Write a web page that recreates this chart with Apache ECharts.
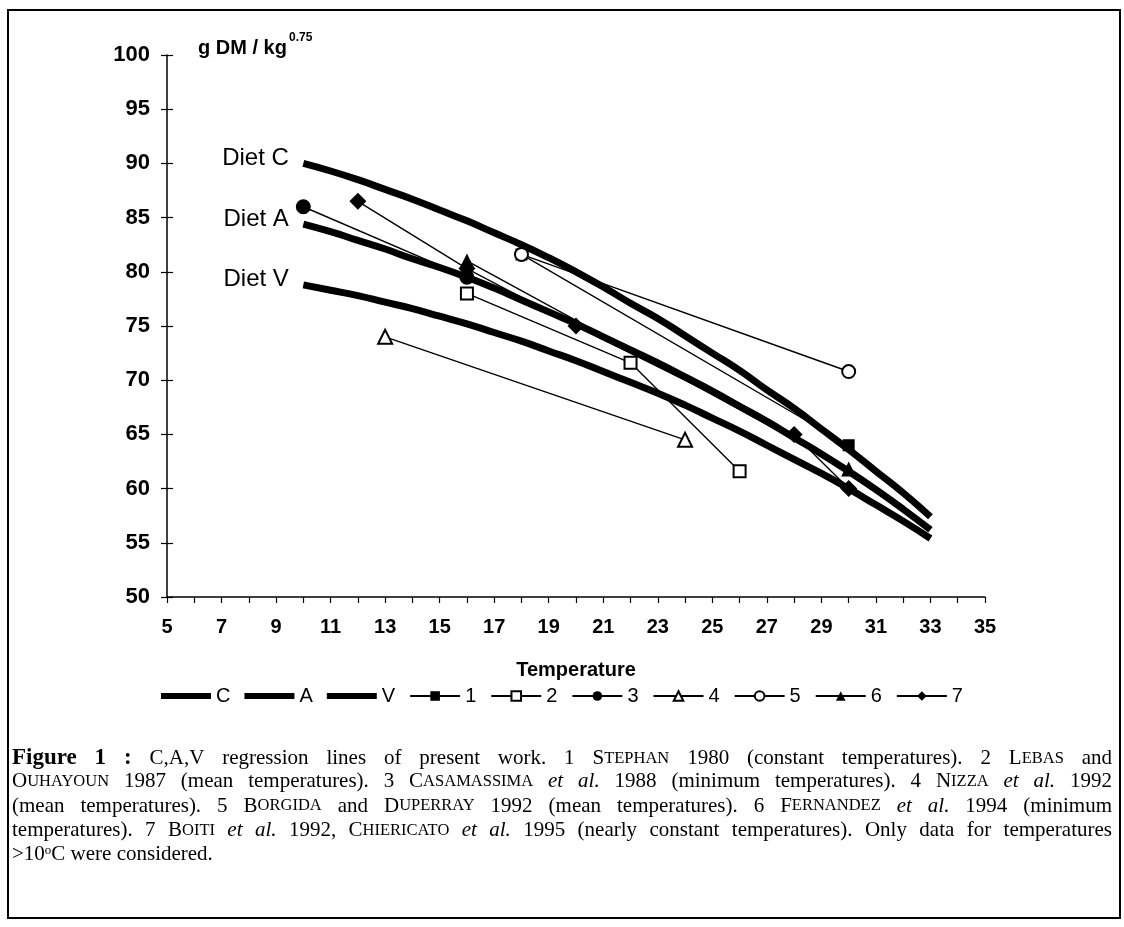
<!DOCTYPE html>
<html><head><meta charset="utf-8">
<script src="https://cdn.jsdelivr.net/npm/echarts@6/dist/echarts.min.js"></script>
<style>html,body{margin:0;padding:0;background:#fff}#c{width:1124px;height:927px}</style>
</head><body><div id="c"></div>
<script>
// ---- data ----
const tempGrid = [10,11,12,13,14,15,16,17,18,19,20,21,22,23,24,25,26,27,28,29,30,31,32,33];
const dietC = [90.0,89.3,88.5,87.6,86.7,85.7,84.7,83.6,82.5,81.3,80.0,78.6,77.1,75.7,74.1,72.5,70.9,69.1,67.4,65.5,63.6,61.6,59.6,57.4];
const dietA = [84.4,83.7,82.9,82.1,81.2,80.4,79.5,78.5,77.4,76.3,75.2,74.0,72.8,71.6,70.3,69.0,67.6,66.2,64.7,63.2,61.6,59.9,58.1,56.2];
const dietV = [78.8,78.3,77.8,77.2,76.6,75.9,75.2,74.4,73.6,72.7,71.8,70.8,69.8,68.8,67.7,66.5,65.3,64.0,62.7,61.4,60.0,58.5,57.0,55.4];
const study1 = [[18,81.6],[30,64]];
const study2 = [[16,78],[22,71.6],[26,61.6]];
const study3 = [[10,86],[16,79.5]];
const study4 = [[13,74],[24,64.5]];
const study5 = [[18,81.6],[30,70.8]];
const study6 = [[16,81],[30,61.8]];
const study7 = [[12,86.5],[16,80.3],[20,75],[28,65],[30,60]];
const xRange = [5,35];
const yRange = [50,100];
const yLabelName = 'g DM / kg';
const yLabelSup = '0.75';
const xLabelName = 'Temperature';

const chart = echarts.init(document.getElementById('c'));
const SANS = 'Liberation Sans';
const SERIF = 'Liberation Serif';

function thick(name, ys, label){
  const data = tempGrid.map((t,i)=>[t, ys[i]]);
  return {name, type:'line', data, smooth:true, showSymbol:false, symbol:'none',
    lineStyle:{color:'#000', width:7}, itemStyle:{color:'#000'}, z:2, animation:false,
    markPoint:{symbol:'circle', symbolSize:1, itemStyle:{color:'rgba(0,0,0,0)'},
      data:[{coord:[tempGrid[0], ys[0]]}],
      label:{show:true, formatter:label, position:'left', distance:14,
        color:'#000', fontSize:24, fontFamily:SANS, offset:[0,-5]}}};
}
function thin(name, data, symbol, empty, size){
  return {name, type:'line', data, symbol, symbolSize:size,
    showAllSymbol:true,
    lineStyle:{color:'#000', width:1.4},
    itemStyle:{color:'#000', borderColor:'#000', borderWidth: empty?2:0},
    z:3, animation:false};
}

// ---- caption with justified lines ----
const capLines = [
 [['b','Figure 1 :'],['n',' C,A,V regression lines of present work. 1 S'],['s','TEPHAN'],['n',' 1980 (constant temperatures). 2 L'],['s','EBAS'],['n',' and']],
 [['n','O'],['s','UHAYOUN'],['n',' 1987 (mean temperatures). 3 C'],['s','ASAMASSIMA'],['n',' '],['i','et al.'],['n',' 1988 (minimum temperatures). 4 N'],['s','IZZA'],['n',' '],['i','et al.'],['n',' 1992']],
 [['n','(mean temperatures). 5 B'],['s','ORGIDA'],['n',' and D'],['s','UPERRAY'],['n',' 1992 (mean temperatures). 6 F'],['s','ERNANDEZ'],['n',' '],['i','et al.'],['n',' 1994 (minimum']],
 [['n','temperatures). 7 B'],['s','OITI'],['n',' '],['i','et al.'],['n',' 1992, C'],['s','HIERICATO'],['n',' '],['i','et al.'],['n',' 1995 (nearly constant temperatures). Only data for temperatures']],
 [['n','>10'],['sup','o'],['n','C were considered.']]
];
const capStyles = {
  n:{fontSize:21, fontFamily:SERIF, fontWeight:'normal', fontStyle:'normal'},
  b:{fontSize:23, fontFamily:SERIF, fontWeight:'bold', fontStyle:'normal'},
  s:{fontSize:16.5, fontFamily:SERIF, fontWeight:'normal', fontStyle:'normal'},
  i:{fontSize:21, fontFamily:SERIF, fontWeight:'normal', fontStyle:'italic'},
  sup:{fontSize:13, fontFamily:SERIF, fontWeight:'normal', fontStyle:'normal', verticalAlign:'top'}
};
const ctx = document.createElement('canvas').getContext('2d');
function fontOf(st){ return `${st.fontStyle} ${st.fontWeight} ${st.fontSize}px "${st.fontFamily}"`; }
const TARGET = 1100;
const graphics = [];
capLines.forEach((line, li)=>{
  let parts = []; let nSp = 0; let w = 0;
  line.forEach(([st, txt])=>{
    const pieces = txt.split(' ');
    pieces.forEach((p, pi)=>{
      if (pi>0){ parts.push({sp:true}); nSp++; }
      if (p.length){ ctx.font = fontOf(capStyles[st]); w += ctx.measureText(p).width; parts.push({st, p}); }
    });
  });
  ctx.font = fontOf(capStyles.n);
  const natSp = ctx.measureText(' ').width;
  let spW = natSp;
  if (li < capLines.length-1 && nSp>0) spW = Math.max(2, (TARGET - w)/nSp);
  const rich = Object.assign({}, capStyles, {sp:{fontSize:21, fontFamily:SERIF, width:spW}});
  const text = parts.map(o=> o.sp ? '{sp| }' : `{${o.st}|${o.p}}`).join('');
  graphics.push({type:'text', left:12, top: 747 + li*24.3, z:10,
    style:{text, rich, fill:'#000'}});
});

graphics.push({type:'rect', shape:{x:8,y:10,width:1112,height:908}, style:{fill:'none', stroke:'#000', lineWidth:2}, z:0});
graphics.push({type:'text', left:198, top:38, style:{text:yLabelName, fill:'#000', font:`bold 20px "${SANS}"`}});
graphics.push({type:'text', left:289, top:32, style:{text:yLabelSup, fill:'#000', font:`bold 12px "${SANS}"`}});

const barIcon = 'path://M0,0L0.01,0L0.01,0.01Z M0,3L50,3L50,9L0,9Z M49.99,11.99L50,11.99L50,12Z';
const yCommon = {type:'value', min:yRange[0], max:yRange[1], interval:5, splitLine:{show:false}};
chart.setOption({
  backgroundColor:'#fff',
  animation:false,
  grid:{left:167, right:139, top:55, bottom:330},
  xAxis:{type:'value', min:xRange[0], max:xRange[1], interval:1,
    axisLine:{lineStyle:{color:'#000', width:1.5}},
    axisTick:{inside:false, length:6, lineStyle:{color:'#000', width:1.2}},
    axisLabel:{color:'#000', fontSize:20, fontWeight:'bold', fontFamily:SANS, margin:20,
      formatter:v=> (v%2===1 ? String(v) : '')},
    splitLine:{show:false},
    name:xLabelName, nameLocation:'middle', nameGap:63,
    nameTextStyle:{color:'#000', fontSize:20, fontWeight:'bold', fontFamily:SANS}},
  yAxis:[
    Object.assign({}, yCommon, {position:'left',
      axisLine:{show:true, lineStyle:{color:'#000', width:1.5}},
      axisTick:{show:true, inside:false, length:6, lineStyle:{color:'#000', width:1.2}},
      axisLabel:{color:'#000', fontSize:22, fontWeight:'bold', fontFamily:SANS, margin:17}}),
    Object.assign({}, yCommon, {position:'left',
      axisLine:{show:false},
      axisTick:{show:true, inside:true, length:6, lineStyle:{color:'#000', width:1.2}},
      axisLabel:{show:false}})
  ],
  legend:{top:681, left:'center', itemWidth:50, itemHeight:12, itemGap:14,
    textStyle:{color:'#000', fontSize:20, fontFamily:SANS},
    data:[{name:'C', icon:barIcon},{name:'A', icon:barIcon},{name:'V', icon:barIcon},'1','2','3','4','5','6','7']},
  graphic: graphics,
  series:[
    thick('C', dietC, 'Diet C'),
    thick('A', dietA, 'Diet A'),
    thick('V', dietV, 'Diet V'),
    thin('1', study1, 'rect', false, 12),
    thin('2', study2, 'emptyRect', true, 12),
    thin('3', study3, 'circle', false, 15),
    thin('4', study4, 'emptyTriangle', true, 14),
    thin('5', study5, 'emptyCircle', true, 13),
    thin('6', study6, 'triangle', false, 15),
    thin('7', study7, 'diamond', false, 17)
  ]
});
</script></body></html>
